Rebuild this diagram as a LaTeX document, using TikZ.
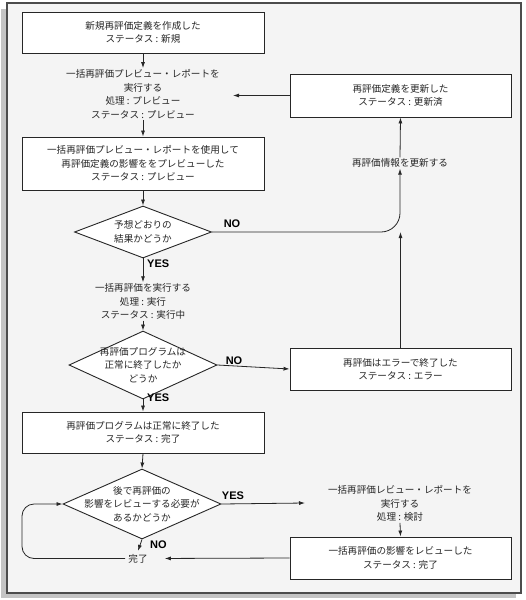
\documentclass[tikz,border=0pt]{standalone}
\usepackage{fontspec}
\setmainfont{Noto Sans CJK JP}
\newfontfamily\latinbold{Liberation Sans}
\usetikzlibrary{shapes.geometric,arrows.meta}
\definecolor{panelbg}{HTML}{F4F4F4}
\definecolor{shadowc}{HTML}{C4C4C4}
\begin{document}
\begin{tikzpicture}[x=1pt,y=-1pt,
  every node/.style={font=\fontsize{9.6pt}{13.6pt}\selectfont, text=black!85},
  procbox/.style={draw=black!85, line width=0.9pt, fill=white, align=center, inner sep=0pt},
  plaintext/.style={align=center, inner sep=1pt},
  decision/.style={draw=black!85, line width=0.9pt, fill=white, diamond, inner sep=0pt},
  yn/.style={font=\latinbold\bfseries\fontsize{11pt}{12pt}\selectfont, text=black, inner sep=0pt},
  conn/.style={draw=black!85, line width=0.8pt},
  arr/.style={conn, -{Latex[length=6pt,width=4pt]}}
]
\useasboundingbox (0,0) rectangle (526,600);
% background panel with shadow
\fill[shadowc] (1,9) rectangle (516,598);
\filldraw[fill=panelbg, draw=black!70, line width=1.2pt] (7,3) rectangle (521,593);

% nodes
\node[procbox, minimum width=242pt, minimum height=41pt] (b1) at (143,32.5)
  {新規再評価定義を作成した\\ステータス : 新規};
\node[plaintext] (t1) at (143,94)
  {一括再評価プレビュー・レポートを\\実行する\\処理 : プレビュー\\ステータス : プレビュー};
\node[procbox, minimum width=242pt, minimum height=53pt] (b2) at (143,163.5)
  {一括再評価プレビュー・レポートを使用して\\再評価定義の影響ををプレビューした\\ステータス : プレビュー};
\node[decision, minimum width=137pt, minimum height=52pt] (d1) at (143,232) {};
\node[plaintext] (d1t) at (d1.center) {予想どおりの\\結果かどうか};

\node[procbox, minimum width=221pt, minimum height=43pt] (b3) at (400.5,95.5)
  {再評価定義を更新した\\ステータス : 更新済};
\node[plaintext] (t2) at (400,163) {再評価情報を更新する};

\node[plaintext] (t3) at (143,301.5)
  {一括再評価を実行する\\処理 : 実行\\ステータス : 実行中};
\node[decision, minimum width=148pt, minimum height=68pt] (d2) at (143,365) {};
\node[plaintext] (d2t) at (d2.center) {再評価プログラムは\\正常に終了したか\\どうか};

\node[procbox, minimum width=221pt, minimum height=42pt] (b4) at (400.5,369)
  {再評価はエラーで終了した\\ステータス : エラー};

\node[procbox, minimum width=242pt, minimum height=41pt] (b5) at (143,432.5)
  {再評価プログラムは正常に終了した\\ステータス : 完了};
\node[decision, minimum width=158pt, minimum height=70pt] (d3) at (142,504) {};
\node[plaintext] (d3t) at (d3.center) {後で再評価の\\影響をレビューする必要が\\あるかどうか};

\node[plaintext] (t4) at (400,503.5)
  {一括再評価レビュー・レポートを\\実行する\\処理 : 検討};
\node[procbox, minimum width=221pt, minimum height=42pt] (b6) at (400.5,558)
  {一括再評価の影響をレビューした\\ステータス : 完了};
\node[plaintext, inner sep=3pt] (done) at (138,558.5) {完了};

% labels
\node[yn] (no1) at (232,224) {NO};
\node[yn, anchor=west] (yes1) at (147,264) {YES};
\node[yn] (no2) at (234,361) {NO};
\node[yn, anchor=west] (yes2) at (147,398) {YES};
\node[yn] (yes3) at (233,496) {YES};
\node[yn, anchor=west] (no3) at (150,545) {NO};

% helper coordinates
\coordinate (a1tip) at (233,95.5);
\coordinate (a4tip) at (305,503);
\coordinate (loopx) at (22,530);

% connectors
\draw[arr] (b1.south) -- (t1.north);
\draw[arr] (t1.south) -- (b2.north);
\draw[arr] (b2.south) -- (d1.north);
\draw[arr, rounded corners=19pt] (d1.east) -| (t2.south);
\draw[arr] (t2.north) -- (b3.south);
\draw[arr] (b3.west) -- (a1tip);
\draw[arr] (d1.south) -- (t3.north);
\draw[arr] (t3.south) -- (d2.north);
\draw[arr] (d2.east) -- (b4.west);
\draw[arr] (b4.north) -- (b4.north |- d1.east);
\draw[arr] (d2.south) -- (b5.north);
\draw[arr] (b5.south) -- (d3.north);
\draw[arr] (d3.east) -- (a4tip);
\draw[arr] (t4.south) -- (b6.north);
\draw[arr, shorten >=14pt] (b6.west) -- (done.east);
\draw[arr] (d3.south) -- (done.north);
\draw[arr, rounded corners=12pt] (done.west) -- (done.west -| loopx) |- (d3.west);
\end{tikzpicture}
\end{document}
